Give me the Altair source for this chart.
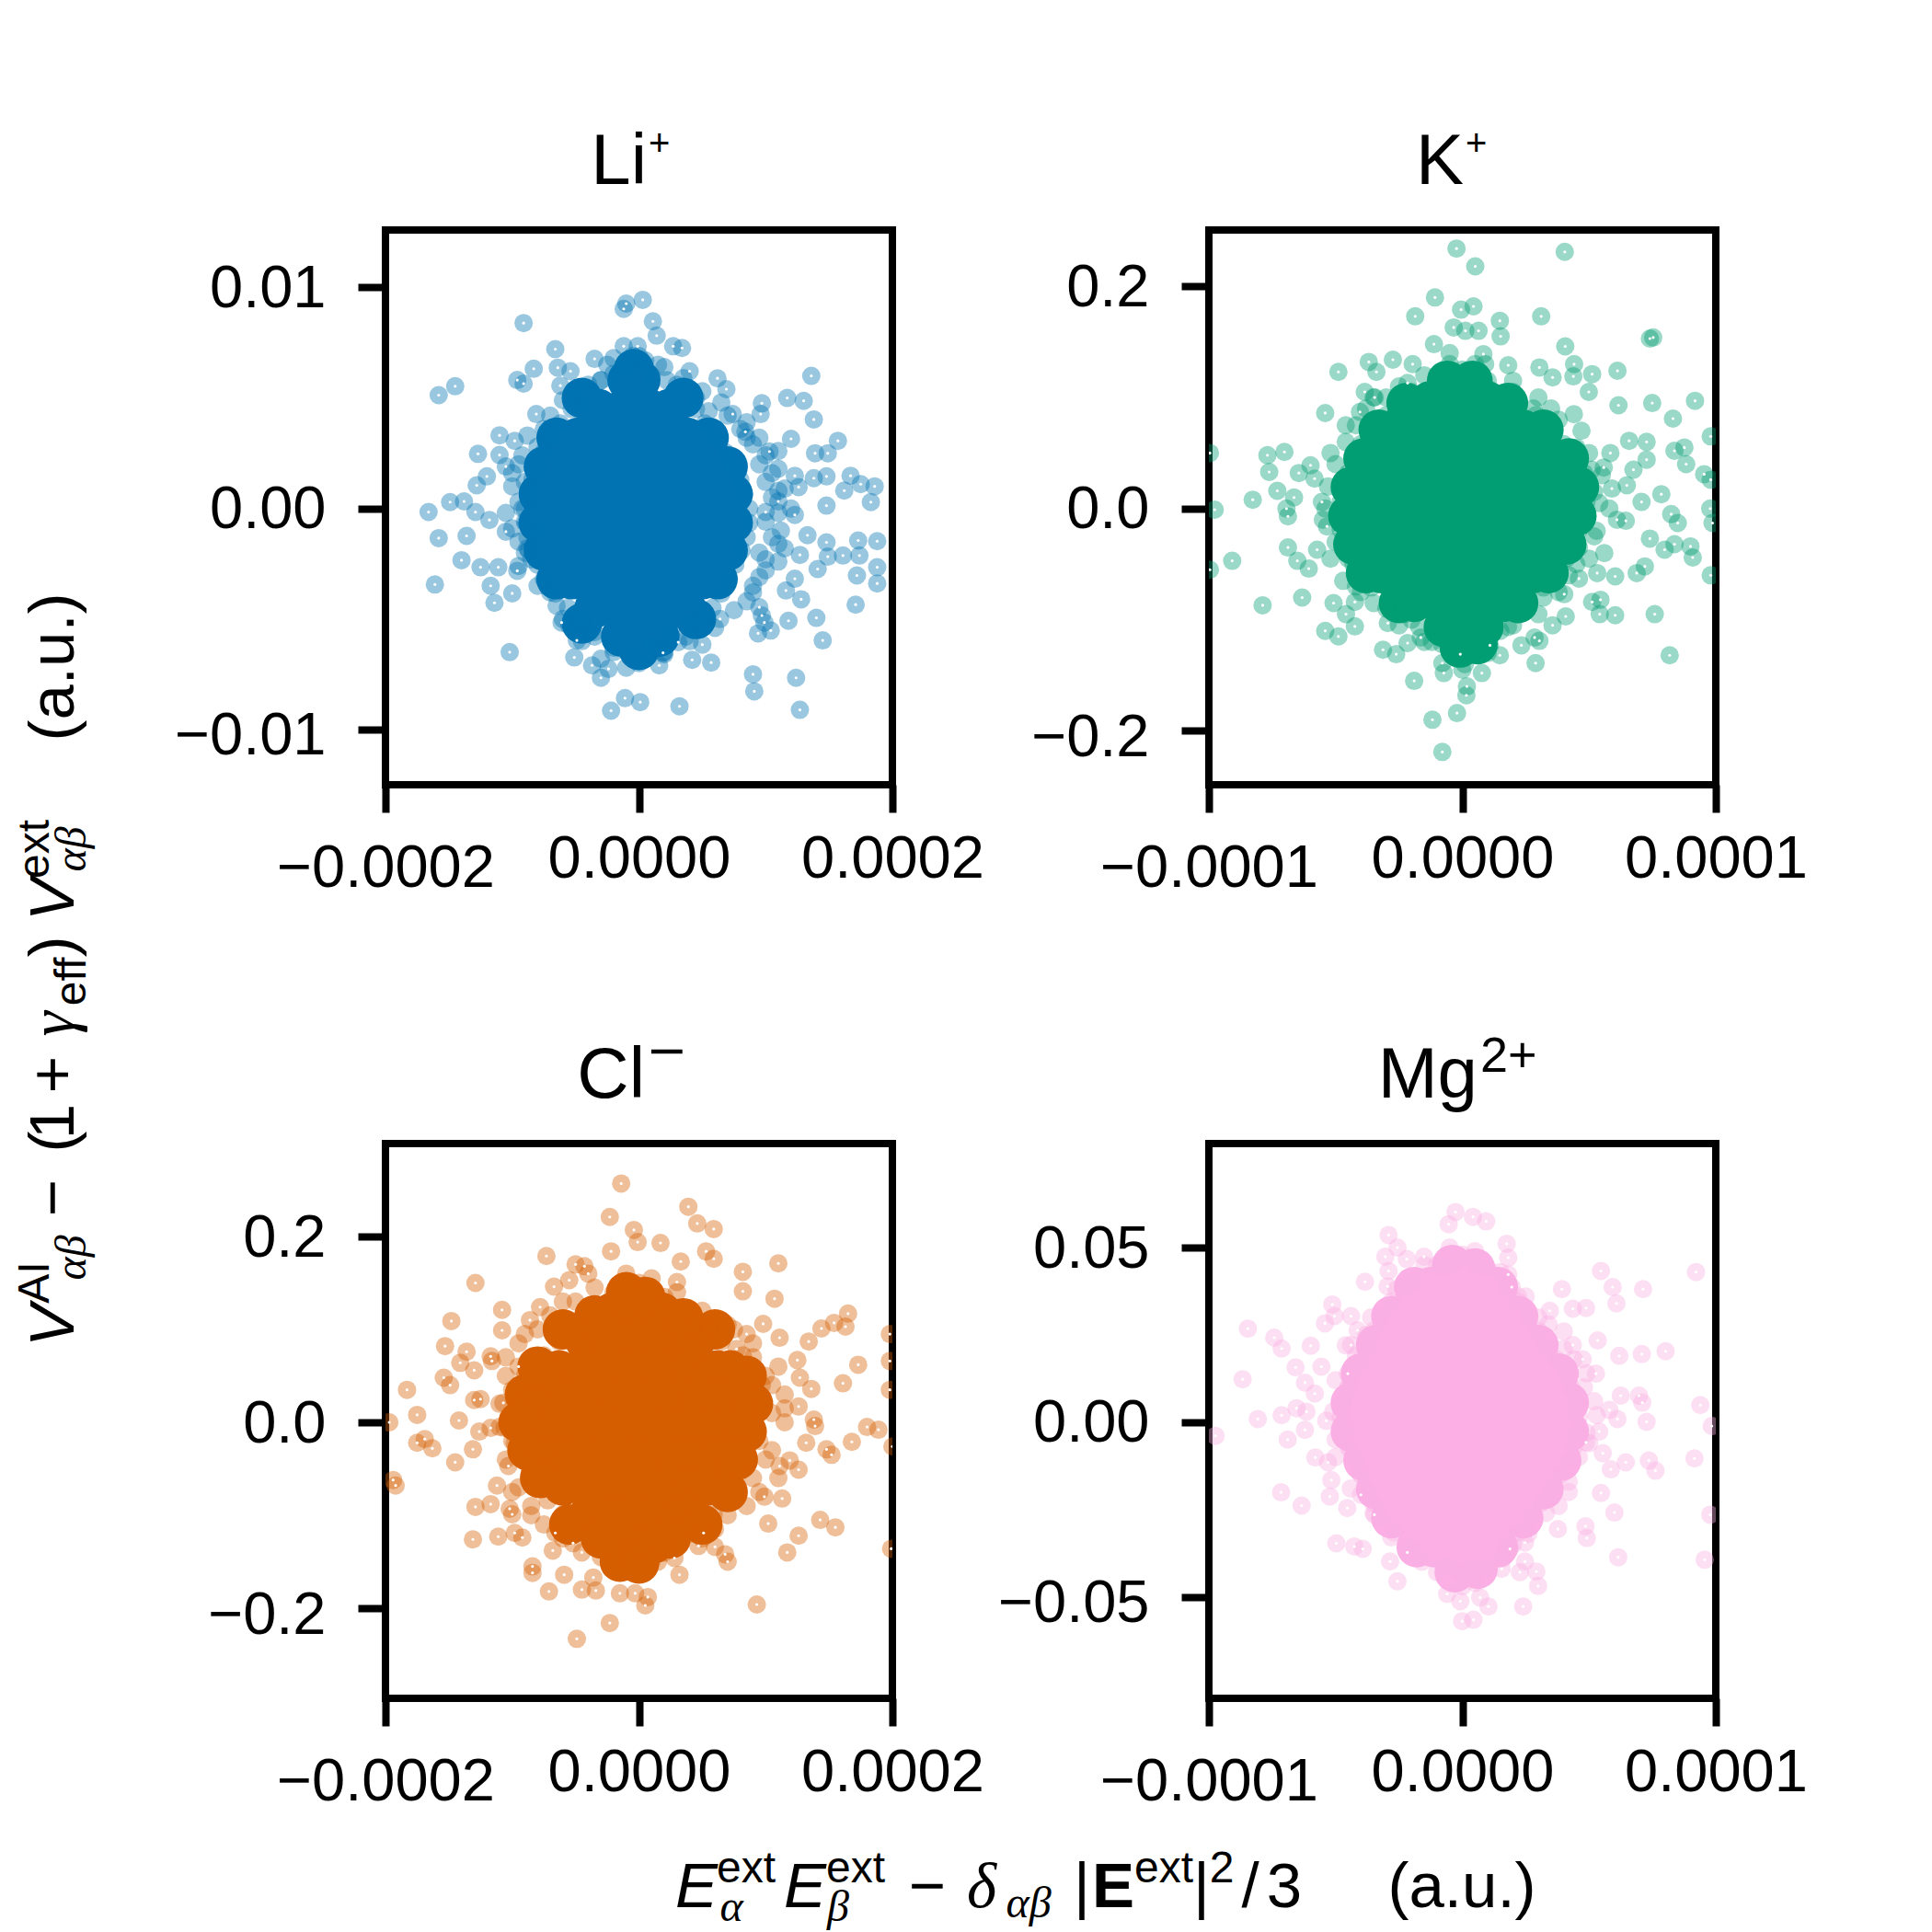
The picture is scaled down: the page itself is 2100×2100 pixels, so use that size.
import altair as alt
import pandas as pd

SANS = "Liberation Sans"
SERIF = "Liberation Serif"

# ---------------- Li+  (x in units of 1e-4, y in units of 1e-3) ----------------
LI_COLOR = "#0173B2"
LI_XS, LI_YS = 1e-4, 1e-3
LI_CORE_Y = [5.8, 4.5, 3.2, 1.9, 0.65, -0.65, -1.9, -3.2, -4.5, -5.8]
LI_CORE_X = [
    [-0.09, 0.01],
    [-0.32, -0.12, 0.08, 0.24],
    [-0.48, -0.27, -0.06, 0.15, 0.38],
    [-0.58, -0.38, -0.18, 0.02, 0.22, 0.40, 0.53],
    [-0.66, -0.45, -0.24, -0.03, 0.18, 0.39, 0.62],
    [-0.68, -0.47, -0.26, -0.05, 0.16, 0.37, 0.58, 0.66],
    [-0.66, -0.45, -0.24, -0.03, 0.18, 0.39, 0.60],
    [-0.53, -0.32, -0.11, 0.10, 0.31, 0.50],
    [-0.35, -0.14, 0.07, 0.28, 0.37],
    [-0.14, 0.01, 0.16],
]
LI_CORE_EXTRA = [(-0.04, 6.3), (0.0, -6.4), (-0.79, 0.65), (-0.79, -0.65), (-0.75, 1.9), (-0.75, -1.9),
                 (-0.65, 3.2), (-0.65, -3.2), (0.74, 0.65), (0.74, -0.65), (0.70, 1.9), (0.70, -1.9),
                 (0.55, 3.2), (0.62, -3.2), (-0.45, 5.0), (0.35, 5.0), (-0.45, -5.2), (0.45, -5.0)]
LI_EDGE = [(-0.30, 5.8), (0.22, 5.8), (-0.53, 4.5), (0.45, 4.5), (-0.69, 3.2), (0.59, 3.2), (-0.79, 1.9), (0.74, 1.9),
           (-0.87, 0.65), (0.83, 0.65), (-0.89, -0.65), (0.87, -0.65), (-0.87, -1.9), (0.81, -1.9), (-0.74, -3.2),
           (0.71, -3.2), (-0.56, -4.5), (0.58, -4.5), (-0.35, -5.8), (0.37, -5.8), (-0.62, 3.85), (0.52, 3.85),
           (-0.75, 2.55), (0.68, 2.55), (-0.84, 1.3), (0.80, 1.3), (-0.90, 0.0), (0.87, 0.0), (-0.88, -1.3),
           (0.85, -1.3), (-0.80, -2.55), (0.76, -2.55), (-0.66, -3.85), (0.65, -3.85), (-0.46, -5.15), (0.48, -5.15),
           (-0.05, 6.9), (-0.25, 6.5), (0.15, 6.5), (0.0, -6.9), (-0.2, -6.5), (0.2, -6.5)]
LI_FRINGE = [(-0.95, 2.0), (-0.90, 1.2), (-0.95, 0.3), (-0.90, -0.6), (-0.95, -1.5), (-0.85, -2.3),
             (-0.80, 2.8), (-0.75, -3.2), (-0.85, 0.8), (-0.80, -1.0), (-0.75, 3.6), (-0.70, -3.8),
             (-0.5, 5.2), (-0.3, 5.8), (-0.1, 6.3), (0.1, 6.0), (0.3, 5.6), (0.45, 5.0), (-0.45, 4.6),
             (0.55, 4.4), (-0.2, 6.8), (0.05, 6.7), (0.8, 3.6), (0.9, 2.9), (0.95, 2.0), (1.0, 1.2),
             (1.05, 0.5), (1.0, -0.6), (1.05, -1.3), (0.95, -2.0), (1.0, -2.8), (0.9, -3.5), (0.85, -4.2),
             (1.1, -2.4), (1.1, 1.8), (0.85, 3.2), (-0.35, -5.6), (-0.2, -6.3), (-0.05, -6.7), (0.1, -6.2),
             (0.25, -5.7), (0.4, -5.2), (-0.45, -5.0), (0.5, -4.7), (0.0, -7.0), (-1.0, 1.6), (-0.9, -2.0),
             (-1.05, -0.2), (1.15, 0.9), (1.12, -1.0), (1.2, 0.0), (1.1, 2.6), (1.15, -1.8),
             (-0.88, 3.3), (-0.92, 2.4), (-1.0, 1.0), (-0.92, 0.0), (-1.0, -0.9), (-0.88, -1.8), (-0.95, -2.6),
             (-0.8, -3.5), (-0.7, 4.2), (-0.65, -4.4), (-0.6, 4.9), (-0.55, -5.3), (-0.4, 5.6), (-0.2, 6.1),
             (0.0, 6.9), (0.2, 6.4), (0.35, 5.9), (0.5, 5.3), (0.65, 4.8), (0.7, 4.2), (0.85, 3.9), (0.95, 3.2),
             (1.0, 2.4), (1.05, 1.6), (1.1, 0.8), (1.1, -0.2), (1.1, -1.6), (1.0, -2.3), (0.95, -3.1),
             (0.9, -3.8), (0.75, -4.6), (0.6, -5.4), (0.4, -6.0), (0.2, -6.6), (-0.1, -7.2), (-0.3, -6.8),
             (-0.45, -6.0), (-0.6, -5.0)]
LI_OUT = [(-0.10, 9.27), (0.03, 9.44), (-0.12, 9.03), (0.11, 8.47), (0.14, 7.82), (0.27, 7.34), (0.34, 7.26),
          (-0.91, 8.39), (-0.66, 7.21), (-0.83, 6.32), (-0.96, 5.81), (-0.91, 5.65), (-0.64, 6.37), (-0.54, 6.21),
          (-0.62, 5.56), (-0.35, 6.77), (-0.12, 7.34), (-0.01, 7.34), (0.40, 6.21), (0.62, 5.89), (0.69, 5.40),
          (1.36, 6.00), (1.17, 5.00), (1.30, 4.87), (0.97, 4.76), (0.96, 4.27), (1.38, 4.03), (1.20, 3.15),
          (1.57, 3.06), (1.39, 2.50), (1.49, 2.50), (0.74, 4.27), (0.84, 3.47), (1.03, 2.58), (-0.81, 4.27),
          (-1.10, 3.31), (-0.98, 3.06), (-1.27, 2.47), (-1.10, 2.42), (-1.05, 1.90), (-1.20, 1.45), (-1.28, 1.05),
          (-1.49, 0.29), (-1.38, 0.32), (-1.66, -0.16), (-1.29, -0.16), (-1.18, -0.52), (-1.58, -1.34),
          (-1.36, -1.24), (-1.05, -1.05), (-1.40, -2.34), (-1.25, -2.66), (-1.11, -2.66), (-1.61, -3.44),
          (-1.17, -3.50), (-1.00, -3.84), (-1.14, -4.27), (-0.96, -2.82), (-1.58, 5.13), (-1.45, 5.53),
          (1.67, 1.48), (1.75, 1.10), (1.86, 1.00), (1.62, 0.81), (1.48, 1.45), (1.38, 1.37), (1.23, 1.48),
          (1.26, 0.97), (1.48, 0.13), (1.83, 0.29), (1.23, -0.29), (1.10, 0.32), (1.00, -0.16), (1.73, -1.45),
          (1.88, -1.48), (1.48, -1.53), (1.33, -1.21), (1.27, -2.10), (1.49, -2.18), (1.61, -2.13), (1.74, -2.13),
          (1.41, -2.74), (1.88, -2.66), (1.72, -3.03), (1.88, -3.39), (1.23, -3.18), (1.16, -3.71), (1.28, -4.11),
          (1.71, -4.35), (1.40, -4.95), (1.18, -5.08), (0.97, -4.84), (1.04, -5.52), (0.94, -5.65), (1.45, -5.97),
          (0.90, -7.50), (0.91, -8.27), (1.24, -7.66), (1.27, -9.11),
          (-1.02, -6.50), (-0.61, -5.16), (-0.49, -5.97), (-0.51, -6.74), (-0.37, -7.10), (-0.30, -7.66),
          (-0.24, -7.26), (-0.22, -9.15), (-0.11, -8.58), (0.01, -8.76), (0.32, -8.95), (0.16, -7.10),
          (0.19, -6.53), (0.31, -6.05), (0.42, -6.85), (0.57, -6.97), (0.50, -6.16), (0.64, -5.00),
          (0.95, -4.47), (0.99, -5.16)]

# ---------------- K+  (x in units of 1e-5, y plain) ----------------
K_COLOR = "#029E73"
K_XS, K_YS = 1e-5, 1.0
K_CORE_Y = [0.0968, 0.071, 0.0452, 0.0194, -0.0065, -0.0323, -0.058, -0.0839, -0.1065]
K_CORE_X = [
    [-1.25, -0.21, 0.96],
    [-2.68, -1.64, -0.60, 0.44, 1.48, 2.39],
    [-3.20, -2.16, -1.12, -0.08, 0.96, 2.00, 3.04, 3.56],
    [-3.65, -2.61, -1.57, -0.53, 0.51, 1.55, 2.59, 3.63, 4.02],
    [-3.72, -2.68, -1.64, -0.60, 0.44, 1.48, 2.52, 3.69],
    [-3.72, -2.68, -1.64, -0.60, 0.44, 1.48, 2.52, 3.43],
    [-3.20, -2.16, -1.12, -0.08, 0.96, 2.00, 2.78],
    [-1.90, -0.86, 0.18, 1.22, 1.61],
    [-0.73, 0.05, 0.83],
]
K_CORE_EXTRA = [(-0.6, 0.115), (0.4, 0.115), (-0.1, -0.125), (0.6, -0.122), (4.6, 0.0194), (4.5, -0.0065),
                (4.2, 0.0452), (4.1, -0.0323), (-4.4, 0.0194), (-4.5, -0.0065), (-4.3, -0.0323), (-3.9, 0.0452),
                (-3.8, -0.058), (3.4, -0.058), (3.2, 0.071), (-3.3, 0.071), (-2.2, 0.095), (1.8, 0.095),
                (-2.5, -0.085), (2.2, -0.085)]
K_EDGE = [(-2.3, 0.0968), (2.0, 0.0968), (-3.7, 0.071), (3.4, 0.071), (-4.2, 0.0452), (4.5, 0.0452),
          (-4.65, 0.0194), (5.0, 0.0194), (-4.7, -0.0065), (4.7, -0.0065), (-4.7, -0.0323), (4.4, -0.0323),
          (-4.2, -0.058), (3.8, -0.058), (-2.9, -0.0839), (2.6, -0.0839), (-1.7, -0.1065), (1.8, -0.1065),
          (-3.0, 0.084), (2.9, 0.084), (-4.0, 0.058), (4.0, 0.058), (-4.5, 0.032), (4.8, 0.032), (-4.8, 0.006),
          (4.9, 0.006), (-4.8, -0.019), (4.6, -0.019), (-4.5, -0.045), (4.1, -0.045), (-3.6, -0.071), (3.2, -0.071),
          (-2.3, -0.095), (2.2, -0.095), (-0.2, 0.12), (0.6, 0.118), (-0.7, 0.115), (0.0, -0.128), (-0.8, -0.122),
          (0.9, -0.122)]
K_FRINGE = [(-4.6, 0.06), (-5.0, 0.04), (-4.4, 0.02), (-4.8, 0.0), (-4.5, -0.02), (-5.0, -0.03), (-4.3, -0.05),
            (-4.7, -0.065), (-4.0, -0.075), (-4.2, 0.075), (-3.8, 0.09), (-5.3, 0.02), (4.7, 0.07), (5.0, 0.05),
            (4.6, 0.03), (5.2, 0.015), (4.8, -0.005), (5.3, -0.02), (4.6, -0.035), (5.0, -0.045), (4.2, -0.06),
            (4.4, 0.085), (5.5, 0.03), (5.6, -0.04), (-2.0, 0.105), (-1.0, 0.12), (0.0, 0.125), (1.0, 0.115),
            (2.0, 0.105), (2.8, 0.09), (-0.5, 0.13), (0.5, 0.13), (-2.0, -0.1), (-1.2, -0.12), (-0.3, -0.13),
            (0.6, -0.125), (1.5, -0.11), (2.3, -0.09), (0.1, -0.14), (-0.2, 0.11), (0.3, 0.105), (-5.5, -0.01),
            (5.8, 0.0), (-3.0, 0.1), (3.5, 0.09), (-3.0, -0.09), (3.2, -0.08),
            (-5.2, 0.05), (-5.4, 0.0), (-5.2, -0.045), (-4.6, 0.075), (-4.2, -0.07), (-3.5, 0.1), (-3.5, -0.085),
            (-2.5, 0.11), (-2.5, -0.105), (-1.5, 0.12), (-1.5, -0.12), (-0.5, 0.14), (0.0, -0.145), (0.9, 0.13),
            (1.0, -0.13), (2.0, 0.115), (2.0, -0.105), (3.0, 0.1), (3.0, -0.095), (3.8, 0.08), (3.8, -0.075),
            (4.5, 0.055), (4.5, -0.05), (5.1, 0.035), (5.2, -0.025), (5.4, 0.005)]
K_OUT = [(-0.23, 0.234), (0.51, 0.218), (4.04, 0.231), (-1.08, 0.190), (-1.86, 0.173), (-0.05, 0.179), (0.44, 0.182),
         (1.48, 0.169), (1.51, 0.155), (3.11, 0.173), (-0.34, 0.163), (0.12, 0.160), (0.64, 0.160), (-1.12, 0.148),
         (0.83, 0.139), (4.06, 0.146), (4.41, 0.130), (5.12, 0.121), (6.12, 0.124), (4.99, 0.105), (6.16, 0.093),
         (7.40, 0.153), (7.53, 0.154), (4.38, 0.119), (3.04, 0.127), (3.56, 0.118), (1.81, 0.129), (-4.89, 0.123),
         (-3.69, 0.132), (-2.74, 0.134), (-3.39, 0.123), (-2.16, 0.113), (-3.85, 0.105), (-3.46, 0.100),
         (-5.41, 0.086), (-4.04, 0.087), (-1.96, 0.130),
         (7.49, 0.095), (8.31, 0.081), (9.18, 0.097), (9.80, 0.065), (6.58, 0.061), (7.27, 0.060), (7.27, 0.044),
         (8.37, 0.052), (8.76, 0.055), (8.83, 0.040), (6.75, 0.035), (9.54, 0.031), (9.80, 0.026), (5.84, 0.050),
         (5.58, 0.037), (5.90, 0.018), (6.49, 0.021), (7.07, 0.006), (7.85, 0.013), (8.24, -0.005), (8.50, -0.013),
         (9.78, 0.000), (9.87, -0.013), (6.45, -0.011), (6.10, -0.010), (7.40, -0.027), (7.98, -0.037),
         (8.37, -0.032), (9.00, -0.034), (9.09, -0.044), (7.20, -0.052), (6.88, -0.058), (6.03, -0.061),
         (5.32, -0.058), (4.60, -0.063), (9.80, -0.060), (7.59, -0.095), (5.12, -0.084), (5.45, -0.082),
         (5.42, -0.095), (6.03, -0.096), (8.18, -0.132), (4.02, -0.077), (4.08, -0.097), (3.56, -0.105),
         (2.85, -0.116), (2.89, -0.139), (2.33, -0.123), (3.04, -0.119),
         (-9.96, 0.050), (-7.69, 0.048), (-7.02, 0.051), (-7.62, 0.033), (-8.27, 0.008), (-9.77, -0.001),
         (-7.30, 0.016), (-6.94, 0.000), (-6.88, -0.007), (-6.64, 0.010), (-6.45, 0.032), (-5.99, 0.039),
         (-5.83, 0.027), (-6.88, -0.035), (-6.51, -0.047), (-6.06, -0.054), (-9.08, -0.047), (-9.96, -0.055),
         (-6.32, -0.080), (-7.88, -0.087), (-5.08, -0.085), (-4.24, -0.084), (-4.59, -0.095), (-5.41, -0.110),
         (-4.89, -0.115), (-4.24, -0.106), (-5.73, -0.037), (-5.54, 0.006), (-5.34, -0.016),
         (-3.13, -0.127), (-2.61, -0.131), (-2.94, -0.103), (-1.90, -0.155), (-0.79, -0.139), (-0.73, -0.148),
         (-0.08, -0.131), (0.18, -0.160), (0.16, -0.168), (1.09, -0.123), (0.77, -0.148), (1.48, -0.132),
         (-1.18, -0.190), (-0.21, -0.184), (-0.79, -0.219), (-1.64, -0.116), (-2.16, -0.121)]

# ---------------- Cl-  (x in units of 1e-4, y plain) ----------------
CL_COLOR = "#D55E00"
CL_XS, CL_YS = 1e-4, 1.0
CL_CORE_Y = [0.118, 0.087, 0.056, 0.025, -0.006, -0.037, -0.068, -0.099, -0.130]
CL_CORE_X = [
    [-0.21, -0.01, 0.18],
    [-0.42, -0.21, -0.01, 0.20, 0.44],
    [-0.63, -0.42, -0.21, -0.01, 0.20, 0.41, 0.62, 0.72],
    [-0.76, -0.55, -0.34, -0.13, 0.07, 0.28, 0.49, 0.69, 0.75],
    [-0.85, -0.64, -0.43, -0.23, -0.02, 0.19, 0.40, 0.60, 0.69],
    [-0.70, -0.50, -0.29, -0.08, 0.12, 0.33, 0.54, 0.64],
    [-0.60, -0.39, -0.19, 0.02, 0.23, 0.44, 0.54],
    [-0.39, -0.19, 0.02, 0.23, 0.38],
    [-0.08, 0.12],
]
CL_CORE_EXTRA = [(-0.1, 0.14), (0.05, 0.135), (-0.15, -0.15), (0.0, -0.152),
                 (-0.9, 0.03), (-0.95, 0.0), (-0.88, -0.03), (0.85, 0.05), (0.9, 0.02), (0.85, -0.01),
                 (0.78, -0.04), (-0.8, 0.06), (-0.78, -0.06), (0.7, -0.075), (-0.6, 0.1), (0.6, 0.1),
                 (-0.55, -0.11), (0.5, -0.11), (-0.35, 0.115), (0.35, 0.112), (-0.3, -0.125), (0.25, -0.125)]
CL_EDGE = [(-0.42, 0.118), (0.39, 0.118), (-0.63, 0.087), (0.65, 0.087), (-0.84, 0.056), (0.93, 0.056),
           (-0.97, 0.025), (0.96, 0.025), (-1.06, -0.006), (0.90, -0.006), (-0.91, -0.037), (0.85, -0.037),
           (-0.81, -0.068), (0.75, -0.068), (-0.60, -0.099), (0.59, -0.099), (-0.29, -0.130), (0.33, -0.130),
           (-0.55, 0.103), (0.55, 0.103), (-0.75, 0.072), (0.82, 0.072), (-0.92, 0.040), (0.97, 0.040),
           (-1.00, 0.010), (0.95, 0.010), (-0.98, -0.022), (0.88, -0.022), (-0.86, -0.053), (0.80, -0.053),
           (-0.72, -0.084), (0.68, -0.084), (-0.48, -0.115), (0.48, -0.115), (0.0, 0.142), (-0.15, 0.138),
           (0.12, 0.138), (0.0, -0.152), (0.15, -0.150), (-0.15, -0.145)]
CL_FRINGE = [(-0.95, 0.085), (-0.9, 0.05), (-1.0, 0.035), (-0.95, 0.01), (-1.0, -0.02), (-0.9, -0.04),
             (-0.95, -0.07), (-0.85, -0.09), (-0.8, 0.1), (-0.75, -0.11), (0.9, 0.07), (1.0, 0.05), (0.95, 0.03),
             (1.05, 0.01), (0.95, -0.02), (1.0, -0.04), (0.9, -0.06), (0.85, -0.09), (1.1, 0.06), (1.1, -0.06),
             (0.75, 0.1), (-0.4, 0.12), (-0.2, 0.14), (0.0, 0.15), (0.2, 0.135), (0.4, 0.12), (0.55, 0.1),
             (-0.4, -0.12), (-0.2, -0.14), (0.0, -0.155), (0.2, -0.14), (0.4, -0.12), (-1.1, -0.005),
             (-1.05, 0.07), (1.15, 0.0), (1.15, 0.03), (-0.6, 0.13), (0.6, -0.115),
             (-1.05, 0.05), (-1.1, 0.02), (-1.05, -0.04), (-1.0, -0.075), (-0.9, 0.095), (-0.85, -0.1),
             (-0.7, 0.115), (-0.6, -0.125), (-0.5, 0.13), (-0.35, 0.145), (-0.3, -0.145), (-0.1, 0.16),
             (-0.1, -0.16), (0.1, 0.155), (0.1, -0.15), (0.3, 0.14), (0.3, -0.135), (0.5, 0.12), (0.5, -0.125),
             (0.7, 0.105), (0.7, -0.1), (0.9, 0.085), (0.95, -0.075), (1.05, 0.04), (1.05, -0.03), (1.15, 0.015)]
CL_OUT = [(-0.14, 0.257), (0.39, 0.232), (-0.23, 0.221), (0.46, 0.214), (0.59, 0.208), (-0.04, 0.207),
          (-0.01, 0.194), (0.17, 0.193), (-0.22, 0.184), (0.53, 0.184), (0.59, 0.176), (-0.73, 0.179),
          (0.33, 0.173), (1.10, 0.171), (0.82, 0.162), (0.82, 0.141), (1.07, 0.133), (-0.50, 0.170),
          (-0.43, 0.168), (-0.40, 0.160), (-1.29, 0.150), (-0.67, 0.146), (-0.55, 0.153), (0.30, 0.151),
          (-1.48, 0.109), (-1.08, 0.121), (-1.08, 0.099), (-1.53, 0.082), (-1.36, 0.076), (-1.41, 0.064),
          (-1.30, 0.056), (-1.17, 0.071), (-1.16, 0.066), (-1.54, 0.048), (-1.49, 0.040), (-1.83, 0.035),
          (-1.75, 0.008), (-1.97, 0.000), (-1.42, 0.002), (-1.30, 0.024), (-1.25, 0.025), (-1.26, -0.010),
          (-1.17, -0.006), (-1.75, -0.022), (-1.69, -0.018), (-1.63, -0.028), (-1.45, -0.043), (-1.31, -0.029),
          (-1.94, -0.062), (-1.92, -0.068), (-1.03, -0.047), (-1.12, -0.068), (-1.29, -0.091), (-1.17, -0.088),
          (-1.02, -0.093), (-1.00, -0.099), (-1.31, -0.126), (-1.11, -0.123), (-0.98, -0.119), (-0.92, -0.124),
          (-0.95, 0.060), (-1.07, 0.021), (-0.86, 0.110), (-0.78, 0.124),
          (1.65, 0.117), (1.63, 0.103), (1.54, 0.107), (1.44, 0.101), (1.34, 0.087), (1.98, 0.095), (1.98, 0.066),
          (1.25, 0.067), (1.73, 0.062), (1.61, 0.042), (1.36, 0.036), (1.27, 0.048), (1.98, 0.035), (1.26, 0.017),
          (1.38, 0.003), (1.39, -0.004), (1.32, -0.022), (1.80, -0.005), (1.89, -0.008), (1.68, -0.021),
          (1.48, -0.029), (1.52, -0.035), (1.19, -0.041), (1.26, -0.051), (1.11, -0.047), (2.00, -0.026),
          (1.13, -0.082), (0.99, -0.080), (1.43, -0.105), (1.55, -0.113), (1.02, -0.109), (1.26, -0.122),
          (1.17, -0.140), (1.99, -0.136), (0.93, -0.196), (1.11, 0.091), (0.98, 0.106), (0.85, 0.095),
          (0.77, 0.079),
          (-0.84, -0.155), (-0.84, -0.162), (-0.59, -0.164), (-0.71, -0.182), (-0.45, -0.180), (-0.34, -0.181),
          (-0.36, -0.167), (-0.15, -0.184), (-0.03, -0.184), (0.05, -0.197), (0.07, -0.188), (-0.23, -0.216),
          (-0.49, -0.233), (0.32, -0.164), (0.28, -0.146), (0.47, -0.133), (0.70, -0.150), (0.68, -0.142),
          (-0.45, -0.140), (-0.68, -0.138), (-0.66, -0.119), (-0.52, -0.130), (0.51, -0.119), (0.60, -0.134)]

# ---------------- Mg2+  (x in units of 1e-5, y in units of 1e-2) ----------------
MG_COLOR = "#FBAFE4"
MG_XS, MG_YS = 1e-5, 1e-2
MG_CORE_Y = [3.87, 3.04, 2.21, 1.39, 0.56, -0.27, -1.10, -1.92, -2.75, -3.58]
MG_CORE_X = [
    [-1.25, -0.21, 0.70],
    [-2.17, -1.12, -0.08, 0.97, 1.55],
    [-2.69, -1.64, -0.60, 0.44, 1.49, 2.27],
    [-3.28, -2.23, -1.19, -0.14, 0.90, 1.95, 3.12],
    [-3.67, -2.62, -1.58, -0.54, 0.51, 1.55, 2.60, 3.51],
    [-3.67, -2.62, -1.58, -0.54, 0.51, 1.55, 2.60, 3.51],
    [-3.21, -2.17, -1.12, -0.08, 0.97, 2.01, 3.19],
    [-2.75, -1.71, -0.67, 0.38, 1.42, 2.53],
    [-2.23, -1.19, -0.14, 0.90, 1.68],
    [-1.12, -0.21, 0.70],
]
MG_CORE_EXTRA = [(-0.4, 4.5), (0.5, 4.4), (-0.3, -4.3), (0.6, -4.2), (-4.4, 0.56), (-4.4, -0.27), (-4.0, 1.39),
                 (-3.9, -1.1), (4.2, 0.56), (4.2, -0.27), (3.8, 1.39), (3.9, -1.1), (-3.4, 2.21), (3.0, 2.21),
                 (-3.4, -1.92), (3.2, -1.92), (-2.8, 3.04), (2.2, 3.04), (-2.8, -2.75), (2.4, -2.75),
                 (-1.9, 3.87), (1.4, 3.87), (-1.8, -3.58), (1.4, -3.58)]
MG_EDGE = [(-2.3, 3.87), (1.75, 3.87), (-3.2, 3.04), (2.6, 3.04), (-3.7, 2.21), (3.3, 2.21), (-4.3, 1.39), (4.1, 1.39),
           (-4.7, 0.56), (4.5, 0.56), (-4.7, -0.27), (4.5, -0.27), (-4.2, -1.10), (4.2, -1.10), (-3.8, -1.92),
           (3.5, -1.92), (-3.2, -2.75), (2.7, -2.75), (-2.1, -3.58), (1.7, -3.58), (-2.8, 3.45), (2.2, 3.45),
           (-3.5, 2.62), (3.0, 2.62), (-4.0, 1.8), (3.7, 1.8), (-4.5, 0.97), (4.3, 0.97), (-4.8, 0.15), (4.6, 0.15),
           (-4.5, -0.7), (4.4, -0.7), (-4.0, -1.5), (3.9, -1.5), (-3.5, -2.33), (3.1, -2.33), (-2.7, -3.16),
           (2.2, -3.16), (-0.3, 4.55), (0.5, 4.5), (-0.8, 4.4), (-0.2, -4.25), (0.4, -4.2), (-0.7, -4.1)]
MG_FRINGE = [(-4.5, 1.0), (-4.8, 0.4), (-4.6, -0.2), (-4.4, -0.8), (-4.0, -1.5), (-3.8, 2.5), (-4.2, 1.9),
             (-5.0, -0.5), (4.4, 1.8), (4.8, 1.0), (4.5, 0.3), (4.9, -0.3), (4.6, -1.0), (4.2, -1.7), (3.8, -2.4),
             (5.2, 0.6), (4.0, 2.6), (-2.0, 4.0), (-1.0, 4.5), (0.0, 4.8), (1.0, 4.4), (2.2, 3.6), (3.0, 3.0),
             (-2.0, -3.6), (-1.0, -4.3), (0.0, -4.7), (1.0, -4.2), (2.0, -3.5),
             (-5.0, 1.2), (-5.1, 0.3), (-5.0, -1.0), (-4.6, 2.2), (-4.4, -1.9), (-3.6, 3.0), (-3.5, -2.6),
             (-2.6, 3.8), (-2.8, -3.3), (-1.5, 4.5), (-1.6, -4.0), (-0.5, 5.0), (0.5, -4.6), (0.5, 4.9),
             (1.5, 4.3), (1.6, -3.9), (2.5, 3.6), (2.6, -3.2), (3.4, 2.8), (3.3, -2.6), (4.0, 2.1), (4.2, -2.0),
             (4.9, 1.4), (5.0, -0.6), (5.3, 0.2)]
MG_OUT = [(-0.27, 6.02), (-0.54, 5.67), (0.42, 5.88), (0.94, 5.75), (-2.91, 5.36), (-2.56, 5.00), (-3.04, 4.74),
          (-2.19, 4.67), (-2.91, 4.33), (-2.95, 3.89), (-3.84, 4.02), (1.75, 5.11), (1.81, 4.71), (1.81, 4.23),
          (1.95, 3.87), (-1.51, 4.74), (5.47, 4.33), (5.93, 3.87), (6.08, 3.40), (7.13, 3.81), (9.22, 4.30),
          (3.93, 3.81), (3.45, 3.19), (4.36, 3.25), (4.88, 3.27), (5.34, 2.34), (6.19, 1.90), (7.08, 1.95),
          (8.02, 2.03),
          (-8.46, 2.68), (-7.42, 2.42), (-7.13, 2.11), (-5.98, 2.19), (-5.42, 2.83), (-5.13, 3.37), (-5.04, 3.04),
          (-4.39, 3.04), (-6.58, 1.57), (-5.56, 1.59), (-6.21, 1.13), (-5.82, 0.82), (-8.67, 1.23), (-6.54, 0.40),
          (-6.15, 0.30), (-7.13, 0.20), (-8.07, 0.09), (-9.74, -0.39), (-6.21, -0.22), (-6.89, -0.50),
          (-5.37, 0.04), (-5.80, -1.01), (-5.30, -1.15), (-5.17, -1.66), (-7.15, -2.01), (-6.34, -2.39),
          (-5.23, -2.13), (-4.54, -2.46), (-4.00, -2.08), (-4.97, -3.47), (-4.26, -3.56), (-3.93, -3.63),
          (-3.47, -2.65), (-4.52, 1.39), (-4.39, 2.21), (-4.13, 2.63),
          (6.25, 0.76), (6.97, 0.76), (7.10, 0.56), (5.80, 0.35), (6.12, 0.09), (7.27, 0.01), (9.39, 0.49),
          (9.84, -0.11), (9.16, -1.04), (7.36, -1.10), (7.62, -1.39), (6.45, -1.15), (5.86, -1.35), (5.54, -0.89),
          (5.47, -2.03), (6.00, -2.59), (9.78, -2.65), (4.91, -3.32), (4.86, -2.98), (3.77, -3.06), (6.15, -3.87),
          (9.56, -3.94), (4.88, -0.58), (5.40, -0.27), (5.27, 1.39), (4.75, 1.80), (4.36, 2.21),
          (-2.85, -3.99), (-2.56, -4.56), (-2.17, -3.73), (-0.60, -4.92), (-0.08, -5.13), (-0.01, -5.70),
          (0.44, -5.66), (0.70, -5.02), (1.03, -5.28), (2.40, -5.28), (2.99, -4.69), (2.92, -4.28), (2.27, -4.30),
          (1.55, -4.20), (2.47, -3.99), (1.88, -3.63), (2.47, -3.45)]

# ---------------- axes ----------------
X_TICKS_WIDE = [-0.0002, 0.0, 0.0002]
X_TICKS_NARROW = [-0.0001, 0.0, 0.0001]
LI_YTICKS = [-0.01, 0.0, 0.01]
K_YTICKS = [-0.2, 0.0, 0.2]
CL_YTICKS = [-0.2, 0.0, 0.2]
MG_YTICKS = [-0.05, 0.0, 0.05]

W, H = 551, 603
CORE_SIZE = 1936
PT_SIZE = 400


def txt(t, x, y, size, font=SANS, style="normal", weight="normal", align="center", angle=0):
    return alt.Chart(alt.InlineData(values=[{"k": 0}])).mark_text(
        text=t, font=font, fontSize=size, fontStyle=style, fontWeight=weight,
        align=align, baseline="alphabetic", angle=angle, color="black"
    ).encode(x=alt.value(x), y=alt.value(y))


def anchor(x, y):
    # invisible point that fixes the top-left corner of the whole figure
    return alt.Chart(alt.InlineData(values=[{"k": 0}])).mark_point(
        size=1, opacity=0, filled=True).encode(x=alt.value(x), y=alt.value(y))


def panel(core_y, core_x, core_extra, edge, fringe, outl, xs, ys, color, xdom, ydom, xt, yt, yfmt, extra):
    core_pts = [(x, y) for y, row in zip(core_y, core_x) for x in row] + list(core_extra)
    core = pd.DataFrame([(x * xs, y * ys) for x, y in core_pts], columns=["x", "y"])
    fr = pd.DataFrame([(x * xs, y * ys) for x, y in list(edge) + list(fringe)], columns=["x", "y"])
    ot = pd.DataFrame([(x * xs, y * ys) for x, y in outl], columns=["x", "y"])
    X = alt.X("x:Q", scale=alt.Scale(domain=xdom, nice=False, zero=False),
              axis=alt.Axis(values=xt, format=".4f", title=None,
                            labelPadding={"condition": {"test": "datum.value < 0", "value": 29}, "value": 19}))
    Y = alt.Y("y:Q", scale=alt.Scale(domain=ydom, nice=False, zero=False),
              axis=alt.Axis(values=yt, format=yfmt, title=None,
                            labelOffset={"condition": {"test": "datum.value < 0", "value": 7}, "value": 1}))
    l_core = alt.Chart(core).mark_circle(size=CORE_SIZE, opacity=1, color=color, clip=True).encode(x=X, y=Y)
    l_fr = alt.Chart(fr).mark_circle(size=PT_SIZE, opacity=0.4, color=color, clip=True).encode(x=X, y=Y)
    l_ot = alt.Chart(ot).mark_circle(size=PT_SIZE, opacity=0.4, color=color, clip=True).encode(x=X, y=Y)
    l_dot = alt.Chart(ot).mark_circle(size=10, opacity=1, color="white", clip=True).encode(x=X, y=Y)
    return alt.layer(l_core, l_fr, l_ot, l_dot, *extra).properties(width=W, height=H)


TY = -50
li_titles = [txt("Li", 284, TY, 78, align="right"), txt("+", 286, -81, 40, align="left")]
k_titles = [txt("K", 277, TY, 78, align="right"), txt("+", 279, -81, 40, align="left")]
cl_titles = [txt("Cl", 282, TY, 78, align="right"), txt("\u2212", 283, -83, 54, font="DejaVu Sans", align="left")]
mg_titles = [txt("Mg", 292, TY, 78, align="right"), txt("2+", 295, -78, 54, align="left")]

# y axis title (rotated), positioned relative to the Li panel
MX, SPX, SBX = -339, -366, -326
ytitle = [
    txt("V", MX, 1191, 69, style="italic", angle=270),
    txt("AI", SPX, 1144, 48, angle=270),
    txt("\u03b1\u03b2", SBX, 1117, 48, font=SERIF, style="italic", angle=270),
    txt("\u2212", MX, 1052, 69, angle=270),
    txt("(", MX, 991, 69, angle=270),
    txt("1", MX, 969, 69, angle=270),
    txt("+", MX, 918, 69, angle=270),
    txt("\u03b3", MX, 863, 69, font=SERIF, style="italic", angle=270),
    txt("eff", SBX, 817, 48, angle=270),
    txt(")", MX, 779, 69, angle=270),
    txt("V", MX, 728, 69, style="italic", angle=270),
    txt("ext", SPX, 673, 48, angle=270),
    txt("\u03b1\u03b2", SBX, 673, 48, font=SERIF, style="italic", angle=270),
    txt("(a.u.)", MX, 475, 69, angle=270),
]

# x axis title, positioned relative to the Cl panel
MY, SPY, SBY = 830, 803, 845
xtitle = [
    txt("E", 338, MY, 69, style="italic"),
    txt("ext", 392, SPY, 48),
    txt("\u03b1", 376, SBY, 48, font=SERIF, style="italic"),
    txt("E", 456, MY, 69, style="italic"),
    txt("ext", 511, SPY, 48),
    txt("\u03b2", 492, SBY, 48, font=SERIF, style="italic"),
    txt("\u2212", 589, MY, 69),
    txt("\u03b4", 648, MY, 69, font=SERIF, style="italic"),
    txt("\u03b1\u03b2", 699, MY + 11, 48, font=SERIF, style="italic"),
    txt("|", 757, MY, 69),
    txt("E", 791, MY, 69, weight="bold"),
    txt("ext", 846, SPY, 48),
    txt("|", 887, MY, 69),
    txt("2", 909, SPY, 48),
    txt("/", 940, MY, 69),
    txt("3", 977, MY, 69),
    txt("(a.u.)", 1170, MY, 69),
]

li = panel(LI_CORE_Y, LI_CORE_X, LI_CORE_EXTRA, LI_EDGE, LI_FRINGE, LI_OUT, LI_XS, LI_YS, LI_COLOR,
           [-0.0002, 0.0002], [-0.0125, 0.0126], X_TICKS_WIDE, LI_YTICKS, ".2f",
           li_titles + ytitle + [anchor(-406, -237)])
k = panel(K_CORE_Y, K_CORE_X, K_CORE_EXTRA, K_EDGE, K_FRINGE, K_OUT, K_XS, K_YS, K_COLOR,
          [-0.0001, 0.0001], [-0.2485, 0.2507], X_TICKS_NARROW, K_YTICKS, ".1f", k_titles)
cl = panel(CL_CORE_Y, CL_CORE_X, CL_CORE_EXTRA, CL_EDGE, CL_FRINGE, CL_OUT, CL_XS, CL_YS, CL_COLOR,
           [-0.0002, 0.0002], [-0.297, 0.300], X_TICKS_WIDE, CL_YTICKS, ".1f", cl_titles + xtitle)
mg = panel(MG_CORE_Y, MG_CORE_X, MG_CORE_EXTRA, MG_EDGE, MG_FRINGE, MG_OUT, MG_XS, MG_YS, MG_COLOR,
           [-0.0001, 0.0001], [-0.0791, 0.0798], X_TICKS_NARROW, MG_YTICKS, ".2f", mg_titles)

chart = alt.concat(li, k, cl, mg, columns=2, spacing={"row": 390, "column": 344}, bounds="flush")
chart = chart.properties(
    padding={"left": 0, "top": 0, "right": 5, "bottom": 0},
    autosize=alt.AutoSizeParams(type="pad"),
    background="white",
).configure_view(stroke="black", strokeWidth=8).configure_axis(
    domain=False, grid=False, tickColor="black", tickWidth=8, tickSize=30,
    labelFont=SANS, labelFontSize=65, labelColor="black", labelFlush=False, labelOverlap=False,
    labelLimit=0,
).configure_axisY(labelPadding=35)

chart.save("out.html", embed_options={"renderer": "svg", "actions": False})
